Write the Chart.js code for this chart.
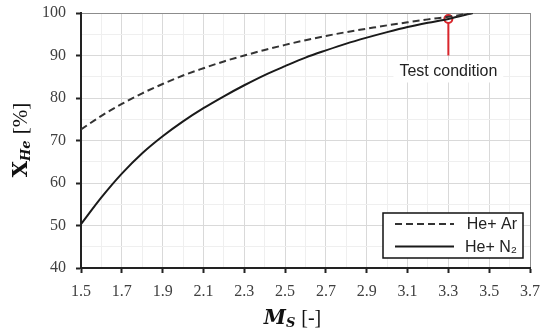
<!DOCTYPE html>
<html>
<head>
<meta charset="utf-8">
<script src="https://cdn.jsdelivr.net/npm/chart.js@4"></script>
<style>
  html, body { margin: 0; padding: 0; background: #fff; }
</style>
</head>
<body>
<canvas id="mixChart" width="541" height="335"></canvas>
<script>
// values
const machNumbers = [1.5, 1.6, 1.7, 1.8, 1.9, 2.0, 2.1, 2.2, 2.3, 2.4, 2.5, 2.6, 2.7, 2.8, 2.9, 3.0, 3.1, 3.2, 3.3, 3.42];
const heArPercent = [72.6, 75.8, 78.6, 81.1, 83.3, 85.3, 87.0, 88.6, 90.0, 91.3, 92.5, 93.6, 94.6, 95.5, 96.3, 97.1, 97.8, 98.5, 99.1, 100];
const heN2Percent = [50.3, 56.6, 62.2, 67.0, 71.0, 74.5, 77.6, 80.4, 83.0, 85.4, 87.5, 89.5, 91.2, 92.8, 94.2, 95.5, 96.7, 97.7, 98.6, 100];
const seriesLabels = ['He+ Ar', 'He+ N\u2082'];
const testMach = [3.3, 3.3];
const testPercent = [98.6, 90];
const testLabel = 'Test condition';

const xMin = 1.5, xMax = 3.7, yMin = 40, yMax = 100;

const toPoints = (xs, ys) => xs.map((x, i) => ({ x: x, y: ys[i] }));
const isMajorX = v => Math.round(v * 10) % 2 === 1;
const isMajorY = v => Math.round(v) % 10 === 0;

const canvas = document.getElementById('mixChart');
const ctx = canvas.getContext('2d');

new Chart(ctx, {
    type: 'line',
    data: {
        datasets: [{
            label: seriesLabels[0],
            data: toPoints(machNumbers, heArPercent),
            borderColor: '#333',
            borderWidth: 2,
            borderDash: [7, 4],
            pointRadius: 0,
            cubicInterpolationMode: 'monotone',
            fill: false
        }, {
            label: seriesLabels[1],
            data: toPoints(machNumbers, heN2Percent),
            borderColor: '#1a1a1a',
            borderWidth: 2,
            pointRadius: 0,
            cubicInterpolationMode: 'monotone',
            fill: false
        }, {
            label: testLabel,
            data: toPoints(testMach, testPercent),
            borderColor: '#d9262c',
            borderWidth: 2,
            pointRadius: [4, 0],
            pointBorderWidth: 2,
            pointBorderColor: '#d9262c',
            pointBackgroundColor: '#fff',
            fill: false
        }]
    },
    options: {
        responsive: false,
        animation: false,
        layout: { padding: { top: 13, right: 11, left: 0, bottom: 0 } },
        scales: {
            x: {
                type: 'linear',
                min: xMin,
                max: xMax,
                afterFit: scale => {
                    scale.height = 67;
                    scale.paddingLeft = 0;
                    scale.paddingRight = 0;
                },
                ticks: {
                    stepSize: 0.1,
                    autoSkip: false,
                    maxRotation: 0,
                    padding: 9,
                    color: '#404040',
                    font: { family: 'Liberation Serif', size: 16 },
                    callback: v => isMajorX(v) ? v.toFixed(1) : ''
                },
                grid: {
                    tickLength: 5,
                    color: c => {
                        const v = c.tick.value;
                        if (Math.abs(v - xMax) < 1e-6) return '#8c8c8c';
                        return isMajorX(v) ? '#d9d9d9' : '#efefef';
                    },
                    tickColor: c => isMajorX(c.tick.value) ? '#222' : 'rgba(0,0,0,0)',
                    tickWidth: 2
                },
                border: { color: '#222', width: 2 }
            },
            y: {
                min: yMin,
                max: yMax,
                afterFit: scale => {
                    scale.width = 81;
                    scale.paddingTop = 0;
                    scale.paddingBottom = 0;
                },
                ticks: {
                    stepSize: 5,
                    autoSkip: false,
                    padding: 10,
                    color: '#404040',
                    font: { family: 'Liberation Serif', size: 16 },
                    callback: v => isMajorY(v) ? v : ''
                },
                grid: {
                    tickLength: 5,
                    color: c => {
                        const v = c.tick.value;
                        if (v === yMax) return '#8c8c8c';
                        return isMajorY(v) ? '#d9d9d9' : '#efefef';
                    },
                    tickColor: c => isMajorY(c.tick.value) ? '#222' : 'rgba(0,0,0,0)',
                    tickWidth: 2
                },
                border: { color: '#222', width: 2 }
            }
        },
        plugins: {
            legend: { display: false },
            tooltip: { enabled: false }
        }
    },
    plugins: [{
        id: 'extras',
        afterDraw: (chart) => {
            const c = chart.ctx;
            const area = chart.chartArea;
            const xs = chart.scales.x;
            const ys = chart.scales.y;

            // test condition label with white backing
            const lx = xs.getPixelForValue(testMach[0]);
            const ly = ys.getPixelForValue(testPercent[1]) + 16;
            c.save();
            c.font = '16px "Liberation Sans"';
            const tw = c.measureText(testLabel).width;
            c.fillStyle = '#fff';
            c.fillRect(lx - tw / 2 - 6, ly - 11, tw + 12, 22);
            c.fillStyle = '#222';
            c.textAlign = 'center';
            c.textBaseline = 'middle';
            c.fillText(testLabel, lx, ly);
            c.restore();

            // legend box
            const bx = 383, by = 213, bw = 140, bh = 45;
            c.save();
            c.fillStyle = '#fff';
            c.fillRect(bx, by, bw, bh);
            c.strokeStyle = '#111';
            c.lineWidth = 1.5;
            c.strokeRect(bx, by, bw, bh);
            const rows = [by + 11, by + 33.5];
            [0, 1].forEach(i => {
                const ds = chart.data.datasets[i];
                c.beginPath();
                c.setLineDash(ds.borderDash || []);
                c.strokeStyle = ds.borderColor;
                c.lineWidth = 2;
                c.moveTo(bx + 12, rows[i]);
                c.lineTo(bx + 71, rows[i]);
                c.stroke();
                c.setLineDash([]);
                c.fillStyle = '#222';
                c.font = '16px "Liberation Sans"';
                c.textAlign = 'right';
                c.textBaseline = 'middle';
                c.fillText(ds.label, bx + bw - 6, rows[i] + 1);
            });
            c.restore();

            // x axis title: M_S [-]
            c.save();
            c.fillStyle = '#111';
            c.textBaseline = 'alphabetic';
            const f1 = 'bold italic 20px "DejaVu Serif"';
            const f2 = 'bold italic 13px "DejaVu Serif"';
            const f3 = '20px "Liberation Serif"';
            c.font = f1; const wM = c.measureText('M').width;
            c.font = f2; const wS = c.measureText('S').width;
            c.font = f3; const wB = c.measureText(' [-]').width;
            let tx = 292 - (wM + wS + wB) / 2;
            const tyBase = 324;
            c.font = f1; c.fillText('M', tx, tyBase); tx += wM;
            c.font = f2; c.fillText('S', tx, tyBase + 3); tx += wS + 1;
            c.font = f3; c.fillText(' [-]', tx, tyBase);
            c.restore();

            // y axis title: X_He [%]
            c.save();
            c.translate(27, (area.top + area.bottom) / 2);
            c.rotate(-Math.PI / 2);
            c.fillStyle = '#111';
            const g1 = 'bold 21px "DejaVu Serif"';
            const g2 = 'bold italic 13px "DejaVu Serif"';
            const g3 = '21px "Liberation Serif"';
            c.font = g1; const wX = c.measureText('X').width;
            c.font = g2; const wH = c.measureText('He').width;
            c.font = g3; const wP = c.measureText(' [%]').width;
            let px = -(wX + wH + wP) / 2;
            c.font = g1; c.fillText('X', px, 0); px += wX;
            c.font = g2; c.fillText('He', px, 3); px += wH + 1;
            c.font = g3; c.fillText(' [%]', px, 0);
            c.restore();
        }
    }]
});
</script>
</body>
</html>
